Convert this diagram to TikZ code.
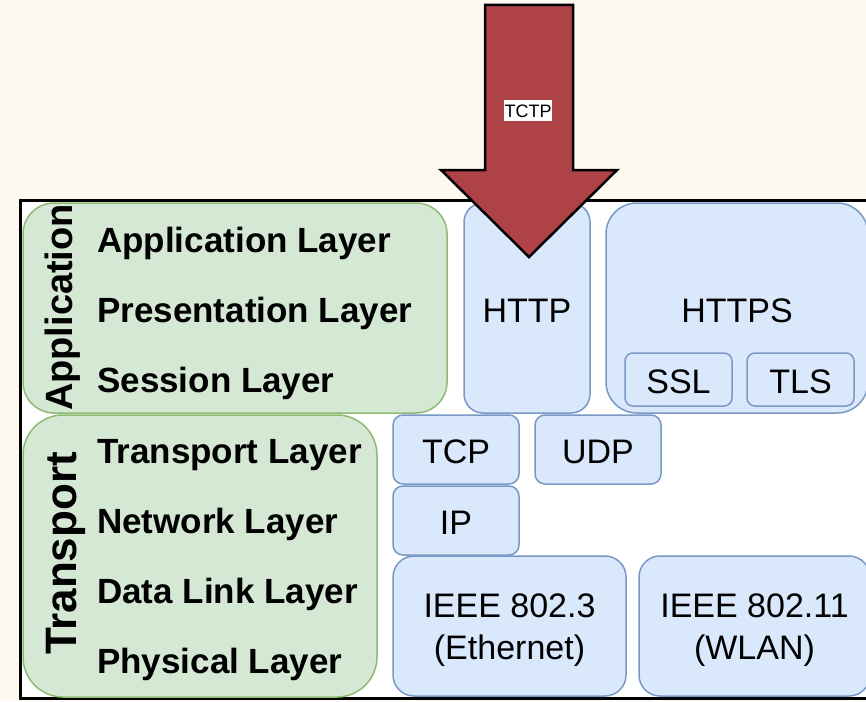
\documentclass[tikz,border=0pt]{standalone}
\usepackage[dvipsnames]{xcolor}
\usepackage{fontspec}
\setmainfont{Liberation Sans}

\definecolor{bgcream}{HTML}{FDF9EE}
\definecolor{greenfill}{HTML}{D5E8D4}
\definecolor{greenline}{HTML}{8DBA75}
\definecolor{bluefill}{HTML}{DAE8FC}
\definecolor{blueline}{HTML}{7A98C4}
\definecolor{arrowred}{HTML}{AE4246}

\begin{document}
\begin{tikzpicture}[x=1pt,y=-1pt,
    group box/.style={draw=greenline,fill=greenfill,line width=1.5pt,rounded corners=#1,inner sep=0pt},
    proto node/.style={draw=blueline,fill=bluefill,line width=1.5pt,rounded corners=#1,align=center,inner sep=0pt,
        text height=28pt,text depth=0pt,font=\fontsize{34}{41}\selectfont},
    proto node/.default=10pt,
    proto label/.style={align=center,inner sep=0pt,yshift=-4.5pt,font=\fontsize{34}{42}\selectfont},
    layer node/.style={anchor=base west,inner sep=0pt,font=\bfseries\fontsize{35}{42}\selectfont},
    group title/.style={rotate=90,anchor=base,inner sep=0pt}]

    \fill[bgcream] (0,0) rectangle (866,701);
    \clip (0,0) rectangle (866,701);
    \draw[line width=3pt,fill=white] (20,200) rectangle (880,698);

    \node[group box=31pt, minimum width=424pt, minimum height=210pt] (appgroup) at (235,308) {};
    \node[group box=40pt, minimum width=354pt, minimum height=282pt] (transgroup) at (200,556) {};

    \node[group title, font=\bfseries\fontsize{38}{46}\selectfont] (apptitle) at (72,307.5) {Application};
    \node[group title, font=\bfseries\fontsize{44}{52}\selectfont] (transtitle) at (76,553.5) {Transport};

    \node[layer node] (l7) at (97,252) {Application Layer};
    \node[layer node] (l6) at (97,322) {Presentation Layer};
    \node[layer node] (l5) at (97,392) {Session Layer};
    \node[layer node] (l4) at (97,463) {Transport Layer};
    \node[layer node] (l3) at (97,533) {Network Layer};
    \node[layer node] (l2) at (97,603) {Data Link Layer};
    \node[layer node] (l1) at (97,673) {Physical Layer};

    \node[proto node=19pt, minimum width=126pt, minimum height=210pt] (http) at (527,308) {HTTP};
    \node[proto node=31pt, minimum width=262pt, minimum height=210pt] (https) at (737,308) {HTTPS};
    \node[proto node=8pt, minimum width=107pt, minimum height=53pt] (ssl) at (678.5,379.5) {SSL};
    \node[proto node=8pt, minimum width=107pt, minimum height=53pt] (tls) at (800.5,379.5) {TLS};

    \node[proto node, minimum width=126pt, minimum height=69pt] (tcp) at (456,449.5) {TCP};
    \node[proto node, minimum width=126pt, minimum height=69pt] (udp) at (598,449.5) {UDP};
    \node[proto node, minimum width=126pt, minimum height=69pt] (ip) at (456,520.5) {IP};

    \node[proto node=21pt, minimum width=233pt, minimum height=140pt,
        label={[proto label]center:IEEE 802.3\\(Ethernet)}] (eth) at (509.5,626) {};
    \node[proto node=21pt, minimum width=231pt, minimum height=140pt,
        label={[proto label]center:IEEE 802.11\\(WLAN)}] (wlan) at (754.5,626) {};

    \draw[fill=arrowred, line width=2.5pt, line join=miter] (485,5) -- (573,5) -- (573,170) -- (617,170)
        -- (529,257) -- (441,170) -- (485,170) -- cycle;
    \node[fill=white, inner xsep=0.5pt, inner ysep=1.5pt, text height=15.5pt, text depth=2pt,
        font=\fontsize{18}{21}\selectfont] (tctp) at (528,110.25) {TCTP};

\end{tikzpicture}
\end{document}
